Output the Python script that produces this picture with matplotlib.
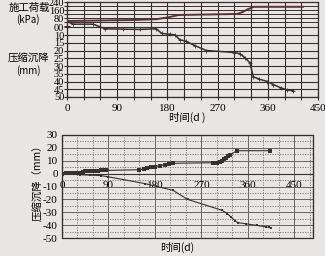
import matplotlib
matplotlib.use("Agg")
import matplotlib.pyplot as plt
from matplotlib.patches import Rectangle
from matplotlib.ticker import MultipleLocator

plt.rcParams['axes.unicode_minus'] = False

# top chart: construction load (kPa) and compression settlement (mm) vs time (d)
load_t = [0, 60, 120, 160, 180, 200, 250, 305, 315, 325, 335, 423]
load_v = [50, 55, 60, 68, 85, 110, 115, 120, 140, 170, 192, 192]

settle_t = [0, 10, 47, 68, 100, 130, 160, 170, 185, 194, 202, 213, 230, 250, 270,
            300, 310, 320, 328, 334, 345, 359, 370, 383, 395, 406]
settle_v = [1, 3, 3, 6, 6.2, 6.4, 6, 9, 9.5, 10, 13, 14, 17, 20, 20.5,
            21.3, 22, 25, 28, 37, 38.5, 40, 42, 44, 45.5, 46]

# bottom chart: two settlement series (mm) vs time (d)
up_t = [0, 8, 12, 16, 20, 24, 28, 32, 40, 45, 50, 55, 60, 65, 70, 75, 80, 85,
        150, 158, 165, 172, 180, 190, 200, 208, 215, 293, 300, 305, 310, 314,
        318, 322, 326, 338, 403]
up_v = [0, 0.3, 0.3, 0.4, 0.5, 0.5, 0.6, 0.6, 1.5, 2, 2.2, 2.3, 2.3, 2.4, 2.4,
        2.5, 2.5, 2.5, 3, 3.5, 4, 4.8, 5.5, 6.2, 7, 7.5, 8, 8.5, 8.6, 9, 10, 11,
        12.5, 13.5, 14.5, 17.8, 17.8]

down_t = [0, 10, 20, 35, 55, 75, 90, 160, 215, 243, 310, 320, 328, 335, 340,
          357, 377, 395, 400, 405]
down_v = [0, -0.2, -0.5, -0.8, -1.2, -1.5, -2.5, -7.7, -13, -20, -28.5, -31,
          -34, -36.5, -38, -39, -40.2, -41.3, -41.8, -42.2]

W, H = 325, 256
bg = '#e9e5e4'
ink = '#3a2f2f'
num_font = 'Liberation Serif'
cjk = ['Noto Sans CJK SC', 'DejaVu Sans']


def rect(l, t, r, b):
    return [l / W, 1 - b / H, (r - l) / W, (b - t) / H]


fig = plt.figure(figsize=(W / 100, H / 100), dpi=100, facecolor=bg)

# ---- top chart ----
ax = fig.add_axes(rect(67, 2, 318, 97))
ax.set_facecolor(bg)
ax.plot(settle_t, settle_v, color=ink, lw=1.1, marker='+', ms=2.5, mew=0.6)
ax.set_xlim(0, 450)
ax.set_ylim(50, -11.3)
ax.xaxis.set_major_locator(MultipleLocator(90))
ax.xaxis.set_minor_locator(MultipleLocator(30))
s_ticks = [5, 10, 15, 20, 25, 30, 35, 40, 45, 50]
ax.set_yticks(s_ticks)
ax.set_yticklabels(['00'] + [str(v) for v in s_ticks[1:]])
ax.grid(True, which='both', axis='x', color=ink, lw=0.8)
ax.grid(True, which='major', axis='y', color=ink, lw=0.8)
ax.tick_params(which='both', direction='inout', length=4, width=0.8, color=ink,
               labelsize=7.5, pad=0)
ax.tick_params(axis='x', pad=3, labelsize=8)
for lab in ax.get_xticklabels() + ax.get_yticklabels():
    lab.set_fontfamily(num_font)
for sp in ax.spines.values():
    sp.set_color(ink)
    sp.set_linewidth(0.9)

axl = fig.add_axes(rect(67, 2, 318, 26))
axl.patch.set_alpha(0)
axl.plot(load_t, load_v, color='#5a3333', lw=1.4)
axl.set_xlim(0, 450)
axl.set_ylim(0, 240)
axl.set_xticks([])
axl.set_yticks([80, 160, 240])
axl.yaxis.set_minor_locator(MultipleLocator(40))
axl.grid(True, which='both', axis='y', color=ink, lw=0.7)
axl.tick_params(which='both', direction='inout', length=4, width=0.8, color=ink,
                labelsize=7.5, pad=0)
for lab in axl.get_yticklabels():
    lab.set_fontfamily(num_font)
for sp in axl.spines.values():
    sp.set_visible(False)

fig.text(29 / W, 1 - 8 / H, '施工荷载', family=cjk, fontsize=7.5, ha='center', va='center')
fig.text(28 / W, 1 - 20 / H, '(kPa)', family=cjk, fontsize=7, ha='center', va='center')
fig.text(28 / W, 1 - 59 / H, '压缩沉降', family=cjk, fontsize=7.5, ha='center', va='center')
fig.text(28 / W, 1 - 71 / H, '(mm)', family=cjk, fontsize=7, ha='center', va='center')
fig.text(187 / W, 1 - 117 / H, '时间(d )', family=cjk, fontsize=7.5, ha='center', va='center')

# ---- bottom chart ----
bx = fig.add_axes(rect(62, 135, 313, 238))
bx.set_facecolor(bg)
bx.plot(up_t, up_v, color=ink, lw=0.8, marker='s', ms=2.3, mew=0)
bx.plot(down_t, down_v, color=ink, lw=0.8, marker='s', ms=2.0, mew=0)
bx.set_xlim(0, 486)
bx.set_ylim(-50, 30)
bx.xaxis.set_major_locator(MultipleLocator(90))
bx.xaxis.set_minor_locator(MultipleLocator(30))
bx.yaxis.set_major_locator(MultipleLocator(10))
bx.yaxis.set_minor_locator(MultipleLocator(5))
bx.grid(True, which='major', color='#6a6262', lw=0.7)
bx.grid(True, which='minor', color='#7a7272', lw=0.6, ls=(0, (1.5, 1.5)))
bx.spines['bottom'].set_position(('data', 0))
bx.spines['bottom'].set_color(ink)
for k in ['top', 'right', 'left']:
    bx.spines[k].set_color(ink)
    bx.spines[k].set_linewidth(0.8)
bx.add_patch(Rectangle((0, 0), 1, 1, transform=bx.transAxes, fill=False,
                       ec=ink, lw=0.9, clip_on=False))
bx.tick_params(which='both', length=0, labelsize=8, colors='black')
bx.tick_params(axis='x', pad=5)
bx.tick_params(axis='y', pad=3)
for lab in bx.get_xticklabels() + bx.get_yticklabels():
    lab.set_fontfamily(num_font)

fig.text(38 / W, 1 - 180 / H, '压缩沉降（mm）', family=cjk, fontsize=7.5,
         rotation=90, ha='center', va='center')
fig.text(177 / W, 1 - 247 / H, '时间(d)', family=cjk, fontsize=7.5,
         ha='center', va='center')

fig.savefig('out.png', dpi=100, facecolor=bg)
